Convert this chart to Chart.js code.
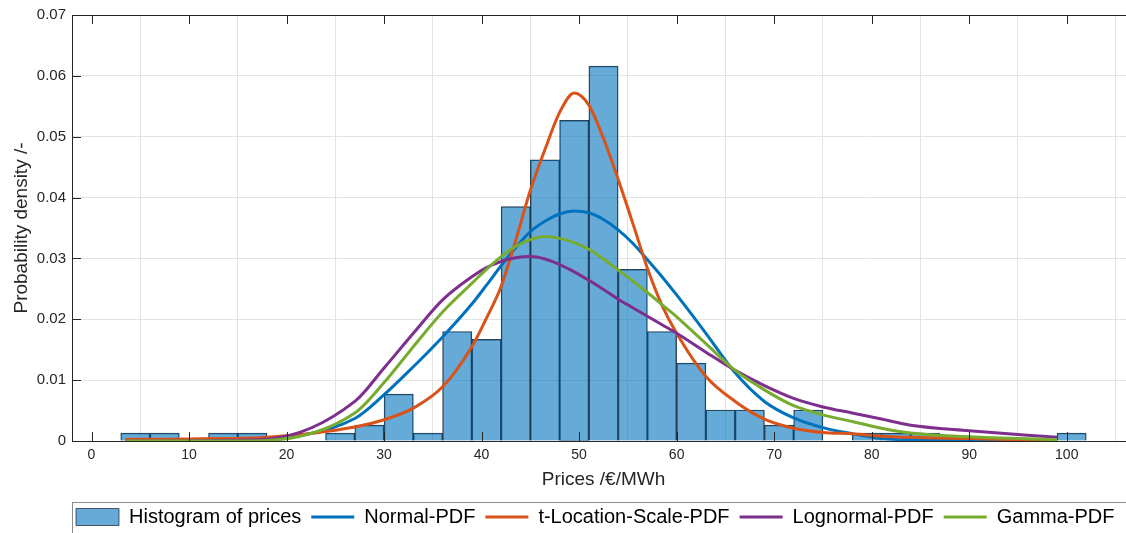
<!DOCTYPE html>
<html>
<head>
<meta charset="utf-8">
<script src="https://cdn.jsdelivr.net/npm/chart.js@4.4.1/dist/chart.umd.min.js"></script>
<style>
  html, body { margin: 0; padding: 0; background: #fff; overflow: hidden; }
  #wrap { width: 1140px; height: 537px; }
</style>
</head>
<body>
<div id="wrap"><canvas id="priceChart" width="1140" height="537"></canvas></div>
<script>
// Histogram bins (3 €/MWh wide) and their densities
const binCenters = [4.5, 7.5, 10.5, 13.5, 16.5, 19.5, 22.5, 25.5, 28.5, 31.5, 34.5,
  37.5, 40.5, 43.5, 46.5, 49.5, 52.5, 55.5, 58.5, 61.5, 64.5, 67.5, 70.5, 73.5,
  76.5, 79.5, 82.5, 85.5, 88.5, 91.5, 94.5, 97.5, 100.5];
const histDensity = [0.0013, 0.0013, 0, 0.0013, 0.0013, 0, 0, 0.0013, 0.0026, 0.0077, 0.0013,
  0.0180, 0.0167, 0.0385, 0.0462, 0.0527, 0.0616, 0.0282, 0.0180, 0.0128, 0.0051, 0.0051, 0.0026, 0.0051,
  0, 0.0013, 0.0013, 0.0013, 0, 0, 0, 0, 0.0013];

// Fitted PDFs at these prices
const pdfX = [3.5, 7.5, 13, 18, 27, 30, 33, 36, 39, 40.5, 42, 43.5, 45, 46.5, 48, 49.5,
  51, 52.5, 54, 55.5, 57, 58.5, 60, 63, 66, 69, 72, 75, 78, 81, 84, 90, 99];
const normalPdf = [0.0001, 0.0001, 0.0002, 0.0004, 0.0037, 0.0076, 0.0122, 0.0171, 0.0225, 0.0256,
  0.0288, 0.0318, 0.0344, 0.0361, 0.0373, 0.0378, 0.0375, 0.0364, 0.0347, 0.0325, 0.0298, 0.0270,
  0.0240, 0.0177, 0.0112, 0.0065, 0.0038, 0.0022, 0.0012, 0.0004, 0.0002, 0.0001, 0];
const tlsPdf = [0.0003, 0.0003, 0.0004, 0.0006, 0.0023, 0.0035, 0.0054, 0.0089, 0.0155, 0.0202,
  0.0254, 0.0330, 0.0412, 0.0479, 0.0540, 0.0572, 0.0552, 0.0497, 0.0430, 0.0358, 0.0284, 0.0223,
  0.0177, 0.0106, 0.0065, 0.0036, 0.0021, 0.0014, 0.0012, 0.0008, 0.0006, 0.0004, 0.0001];
const lognormalPdf = [0, 0, 0.0001, 0.0003, 0.0065, 0.0120, 0.0177, 0.0232, 0.0270, 0.0285,
  0.0295, 0.0301, 0.0303, 0.0299, 0.0290, 0.0278, 0.0264, 0.0249, 0.0233, 0.0219, 0.0205, 0.0191,
  0.0177, 0.0146, 0.0116, 0.0091, 0.0070, 0.0056, 0.0046, 0.0036, 0.0026, 0.0017, 0.0006];
const gammaPdf = [0, 0, 0, 0.0001, 0.0046, 0.0096, 0.0155, 0.0212, 0.0259, 0.0282,
  0.0303, 0.0320, 0.0331, 0.0336, 0.0333, 0.0326, 0.0315, 0.0299, 0.0281, 0.0263, 0.0244, 0.0224,
  0.0204, 0.0160, 0.0116, 0.0084, 0.0058, 0.0043, 0.0032, 0.0021, 0.0013, 0.0007, 0.0002];

const xTicks = [0, 10, 20, 30, 40, 50, 60, 70, 80, 90, 100];
const yTicks = [0, 0.01, 0.02, 0.03, 0.04, 0.05, 0.06, 0.07];

const FONT = "'Liberation Sans', Arial, Helvetica, sans-serif";
const AXIS_COLOR = '#262626';
const TICK_LEN = 9;
const LEGEND_LEFT = 66;

const toPoints = (xs, ys) => xs.map((x, i) => ({ x, y: ys[i] }));

// MATLAB style box: inward ticks on all four sides, frame drawn over the bars
const matlabFrame = {
  id: 'matlabFrame',
  beforeDraw(chart) {
    chart.legend.left = LEGEND_LEFT;
  },
  afterDatasetsDraw(chart) {
    const { ctx, chartArea: a, scales: { x, y } } = chart;
    ctx.save();
    ctx.strokeStyle = AXIS_COLOR;
    ctx.lineWidth = 1;
    ctx.beginPath();
    xTicks.forEach(v => {
      const px = Math.round(x.getPixelForValue(v)) + 0.5;
      ctx.moveTo(px, a.bottom); ctx.lineTo(px, a.bottom - TICK_LEN);
      ctx.moveTo(px, a.top); ctx.lineTo(px, a.top + TICK_LEN);
    });
    yTicks.forEach(v => {
      const py = Math.round(y.getPixelForValue(v)) + 0.5;
      ctx.moveTo(a.left, py); ctx.lineTo(a.left + TICK_LEN, py);
      ctx.moveTo(a.right, py); ctx.lineTo(a.right - TICK_LEN, py);
    });
    ctx.stroke();
    ctx.strokeRect(Math.round(a.left) + 0.5, Math.round(a.top) + 0.5,
      Math.round(a.width), Math.round(a.height));
    ctx.restore();
  },
  afterDraw(chart) {
    const { ctx, chartArea: a } = chart;
    ctx.save();
    ctx.strokeStyle = '#8c8c8c';
    ctx.lineWidth = 1;
    ctx.strokeRect(Math.round(a.left) + 0.5, Math.round(chart.legend.top) + 5.5, 1200, 80);
    ctx.restore();
  }
};

Chart.defaults.font.family = FONT;
Chart.defaults.color = AXIS_COLOR;

const ctx = document.getElementById('priceChart').getContext('2d');
new Chart(ctx, {
  type: 'line',
  data: {
    datasets: [
      {
        type: 'bar',
        label: 'Histogram of prices',
        data: toPoints(binCenters, histDensity),
        backgroundColor: 'rgba(0, 114, 189, 0.6)',
        borderColor: 'rgba(25, 35, 50, 0.9)',
        borderWidth: 0.8,
        barPercentage: 1,
        categoryPercentage: 1,
        order: 5
      },
      {
        label: 'Normal-PDF',
        data: toPoints(pdfX, normalPdf),
        borderColor: '#0072BD',
        order: 4
      },
      {
        label: 't-Location-Scale-PDF',
        data: toPoints(pdfX, tlsPdf),
        borderColor: '#D95319',
        order: 3
      },
      {
        label: 'Lognormal-PDF',
        data: toPoints(pdfX, lognormalPdf),
        borderColor: '#7E2F8E',
        order: 2
      },
      {
        label: 'Gamma-PDF',
        data: toPoints(pdfX, gammaPdf),
        borderColor: '#77AC30',
        order: 1
      }
    ]
  },
  plugins: [matlabFrame],
  options: {
    responsive: false,
    animation: false,
    events: [],
    layout: { padding: { top: 15, right: 5, left: 0, bottom: 0 } },
    datasets: {
      line: {
        borderWidth: 3,
        pointRadius: 0,
        fill: false,
        cubicInterpolationMode: 'monotone'
      }
    },
    plugins: {
      tooltip: { enabled: false },
      legend: {
        position: 'bottom',
        align: 'start',
        labels: {
          color: '#000',
          font: { size: 20 },
          usePointStyle: true,
          pointStyleWidth: 43,
          boxHeight: 17,
          padding: 10,
          generateLabels(chart) {
            const items = Chart.defaults.plugins.legend.labels.generateLabels(chart);
            items.forEach(it => {
              it.pointStyle = chart.data.datasets[it.datasetIndex].type === 'bar' ? 'rect' : 'line';
            });
            return items.sort((a, b) => a.datasetIndex - b.datasetIndex);
          }
        }
      }
    },
    scales: {
      x: {
        type: 'linear',
        min: -2,
        max: 107,
        offset: false,
        afterFit: s => { s.height = 56; },
        afterBuildTicks: s => { s.ticks = xTicks.map(v => ({ value: v })); },
        grid: { color: '#e3e3e3', drawTicks: false },
        border: { display: false },
        ticks: { font: { size: 14 }, padding: 6, color: AXIS_COLOR, maxRotation: 0 },
        title: {
          display: true,
          text: 'Prices /€/MWh',
          font: { size: 19 },
          color: AXIS_COLOR,
          padding: { top: 0, bottom: 6 }
        }
      },
      y: {
        min: 0,
        max: 0.07,
        afterFit: s => { s.width = 72; },
        afterBuildTicks: s => { s.ticks = yTicks.map(v => ({ value: v })); },
        grid: { color: '#e3e3e3', drawTicks: false },
        border: { display: false },
        ticks: {
          font: { size: 15 },
          padding: 6,
          color: AXIS_COLOR,
          callback: v => String(Math.round(v * 100) / 100)
        },
        title: {
          display: true,
          text: 'Probability density /-',
          font: { size: 19 },
          color: AXIS_COLOR,
          padding: { top: 10, bottom: 0 }
        }
      }
    }
  }
});
</script>
</body>
</html>
